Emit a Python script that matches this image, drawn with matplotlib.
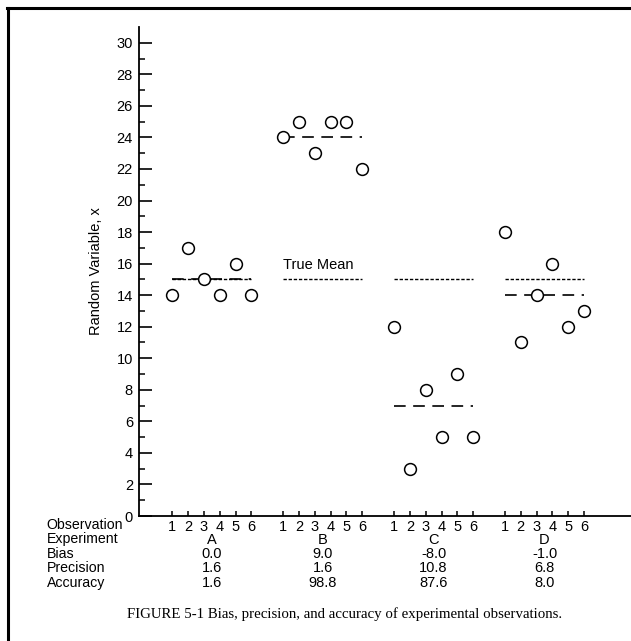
import numpy as np
import matplotlib.pyplot as plt
from matplotlib.lines import Line2D
from matplotlib import transforms

plt.rcParams['font.family'] = ['Liberation Sans', 'DejaVu Sans']

# Data: six observations for each experiment
experiments = ['A', 'B', 'C', 'D']
observations = [1, 2, 3, 4, 5, 6]
obs_A = [14, 17, 15, 14, 16, 14]
obs_B = [24, 25, 23, 25, 25, 22]
obs_C = [12, 3, 8, 5, 9, 5]
obs_D = [18, 11, 14, 16, 12, 13]
true_mean = 15

bias = ['0.0', '9.0', '-8.0', '-1.0']
precision = ['1.6', '1.6', '10.8', '6.8']
accuracy = ['1.6', '98.8', '87.6', '8.0']

row_names = ['Observation', 'Experiment', 'Bias', 'Precision', 'Accuracy']
caption = 'FIGURE 5-1 Bias, precision, and accuracy of experimental observations.'

all_obs = [obs_A, obs_B, obs_C, obs_D]

#------------------------------------------------------------
fig = plt.figure(figsize=(6.31, 6.41), dpi=100)
W, H = 631.0, 641.0
ax = fig.add_axes([138.5 / W, 125 / H, (W - 138.5) / W, 489 / H])

gap = 7  # one empty slot between the experiments
tick_pos = []
tick_lab = []
for g, vals in enumerate(all_obs):
    xs = np.array(observations) + gap * g
    tick_pos += list(xs)
    tick_lab += [str(o) for o in observations]

    # true mean (dotted) and sample mean (dashed) across the group
    ax.plot([xs[0], xs[-1]], [true_mean, true_mean], color='k', lw=1.0,
            linestyle=(0, (2.4, 1.3)), zorder=2)
    ax.plot([xs[0], xs[-1]], [np.mean(vals), np.mean(vals)], color='k', lw=1.2,
            linestyle=(0, (7, 4.5)), zorder=2)

    ax.plot(xs, vals, 'o', ms=8.5, mfc='white', mec='k', mew=1.1, zorder=3)

ax.text(observations[0] + gap, 15.9, 'True Mean', fontsize=10.5, va='center', ha='left')

ax.set_xlim(-1.13, 29.96)
ax.set_ylim(0, 31)
ax.set_yticks(np.arange(0, 31, 2))
ax.set_yticks(np.arange(1, 31, 2), minor=True)
ax.set_xticks(tick_pos, tick_lab)

ax.spines['top'].set_visible(False)
ax.spines['right'].set_visible(False)
ax.spines['left'].set_linewidth(1.3)
ax.spines['bottom'].set_linewidth(1.3)
ax.tick_params(axis='y', which='major', direction='in', length=9.5, width=1.2,
               labelsize=10.5, pad=4)
ax.tick_params(axis='y', which='minor', direction='in', length=4, width=1.1)
ax.tick_params(axis='x', direction='in', length=3.5, width=1.1, labelsize=10.5, pad=3)

ax.set_ylabel('Random Variable, x', fontsize=10.5, labelpad=10)

# table of results under the axis
row_y = [525, 539.5, 554, 568.5, 583]
for name, y in zip(row_names, row_y):
    fig.text(46.5 / W, 1 - y / H, name, fontsize=10.2, ha='left', va='center')

trans = transforms.blended_transform_factory(ax.transData, fig.transFigure)
for g in range(len(experiments)):
    xc = 3.5 + gap * g
    col = [experiments[g], bias[g], precision[g], accuracy[g]]
    for txt, y in zip(col, row_y[1:]):
        ax.text(xc, 1 - y / H, txt, transform=trans, fontsize=10.5,
                ha='center', va='center')

fig.text(345 / W, 1 - 614 / H, caption, fontsize=10.7, ha='center', va='center',
         family=['Liberation Serif', 'DejaVu Serif'])

# page frame from the scan: top and left edges
fig.add_artist(Line2D([7 / W, 1], [1 - 7.5 / H, 1 - 7.5 / H], color='k', lw=2.2,
                      transform=fig.transFigure))
fig.add_artist(Line2D([7.5 / W, 7.5 / W], [0, 1 - 7.5 / H], color='k', lw=2.2,
                      transform=fig.transFigure))

fig.savefig('out.png', dpi=100)
